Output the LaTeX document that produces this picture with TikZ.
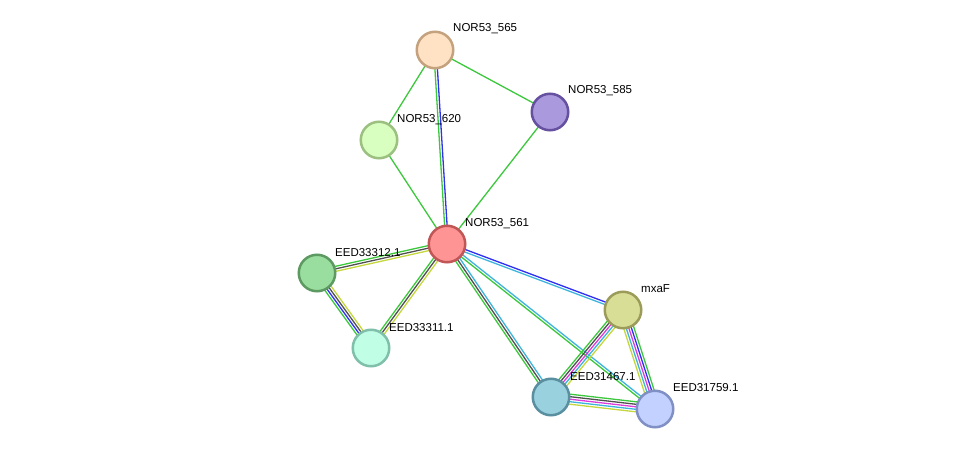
\documentclass[tikz,border=0pt]{standalone}
\usepackage{fontspec}
\setmainfont{Liberation Sans}
\usetikzlibrary{calc}
\pgfdeclarelayer{bg}
\pgfsetlayers{bg,main}
\definecolor{eg}{HTML}{3CC83C}
\definecolor{eb}{HTML}{3030F0}
\definecolor{ed}{HTML}{505050}
\definecolor{ey}{HTML}{C5D73C}
\definecolor{ec}{HTML}{3CB4DC}
\definecolor{em}{HTML}{DC3CDC}
\newcommand\pedge[3]{\foreach \cc/\oo in {#3}{\draw[ln,color=\cc] ($(#1.center)!\oo*2.5pt!90:(#2.center)$) -- ($(#2.center)!\oo*2.5pt!-90:(#1.center)$);}}
\begin{document}
\begin{tikzpicture}[x=1pt,y=-1pt,
  prot/.style={circle, minimum size=36.5pt, inner sep=0pt, line width=2.5pt},
  lbl/.style={anchor=base west, inner sep=0pt, font=\fontsize{11.5}{13}\selectfont},
  ln/.style={line width=1.3pt}]
\useasboundingbox (0,0) rectangle (976,454);
\node[prot, fill={rgb,255:red,255;green,226;blue,196}, draw={rgb,255:red,196;green,162;blue,126}] (n565) at (435,50) {};
\node[prot, fill={rgb,255:red,170;green,153;blue,221}, draw={rgb,255:red,102;green,80;blue,160}] (n585) at (550,112) {};
\node[prot, fill={rgb,255:red,216;green,255;blue,192}, draw={rgb,255:red,156;green,192;blue,128}] (n620) at (379,140) {};
\node[prot, fill={rgb,255:red,255;green,148;blue,148}, draw={rgb,255:red,192;green,86;blue,86}] (n561) at (447,244) {};
\node[prot, fill={rgb,255:red,153;green,221;blue,159}, draw={rgb,255:red,92;green,154;blue,98}] (e33312) at (317,273) {};
\node[prot, fill={rgb,255:red,192;green,255;blue,230}, draw={rgb,255:red,128;green,191;blue,170}] (e33311) at (371,348) {};
\node[prot, fill={rgb,255:red,217;green,222;blue,150}, draw={rgb,255:red,156;green,156;blue,90}] (mxaf) at (623,310) {};
\node[prot, fill={rgb,255:red,153;green,209;blue,223}, draw={rgb,255:red,90;green,143;blue,160}] (e31467) at (551,397) {};
\node[prot, fill={rgb,255:red,194;green,209;blue,255}, draw={rgb,255:red,128;green,144;blue,196}] (e31759) at (655,409) {};

\node[lbl] (l565) at (453,32) {NOR53\_565};
\node[lbl] (l585) at (568,94) {NOR53\_585};
\node[lbl] (l620) at (397,123) {NOR53\_620};
\node[lbl] (l561) at (465,227) {NOR53\_561};
\node[lbl] (l33312) at (335,256) {EED33312.1};
\node[lbl] (l33311) at (389,331) {EED33311.1};
\node[lbl] (lmxaf) at (641,292) {mxaF};
\node[lbl] (l31467) at (570,380) {EED31467.1};
\node[lbl] (l31759) at (673,391) {EED31759.1};

\begin{pgfonlayer}{bg}
\pedge{n565}{n620}{eg/0}
\pedge{n565}{n585}{eg/0}
\pedge{n565}{n561}{eg/-0.5,eb/0.5}
\pedge{n585}{n561}{eg/0}
\pedge{n620}{n561}{eg/0}
\pedge{e33312}{n561}{eg/1,ed/0,ey/-1}
\pedge{n561}{e33311}{eg/-1,ed/0,ey/1}
\pedge{e33312}{e33311}{eg/-1.5,eb/-0.5,ed/0.5,ey/1.5}
\pedge{n561}{mxaf}{eb/0.5,ec/-0.5}
\pedge{n561}{e31467}{ec/1,ed/0,eg/-1}
\pedge{n561}{e31759}{ec/0.5,eg/-0.5}
\pedge{mxaf}{e31467}{eg/-2,ed/-1,em/0,ec/1,ey/2}
\pedge{mxaf}{e31759}{ey/-2,ec/-1,em/0,eb/1,eg/2}
\pedge{e31467}{e31759}{eg/2,ed/1,em/0,ec/-1,ey/-2}
\end{pgfonlayer}
\end{tikzpicture}
\end{document}
